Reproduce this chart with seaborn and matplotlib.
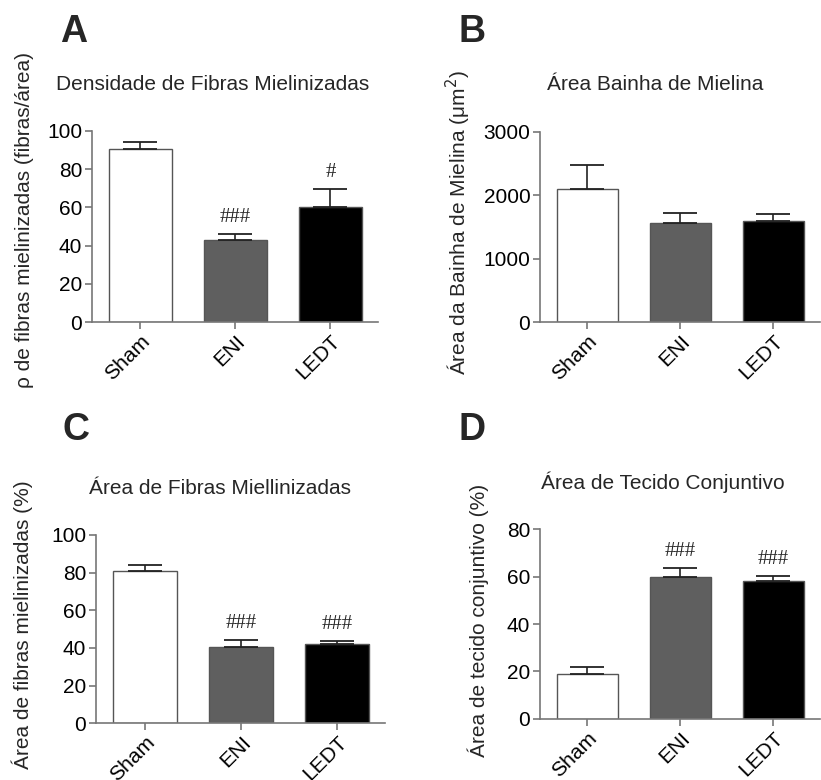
import pandas as pd
import matplotlib.pyplot as plt
import seaborn as sns

groups = ["Sham", "ENI", "LEDT"]
colors = ["#ffffff", "#5f5f5f", "#000000"]

dens_mean = [90.5, 43.0, 60.3]
dens_sem = [4.0, 3.0, 9.5]
dens_marks = ["", "###", "#"]

bainha_mean = [2097, 1565, 1590]
bainha_sem = [380, 158, 118]
bainha_marks = ["", "", ""]

area_mean = [81.0, 40.4, 42.0]
area_sem = [3.2, 3.8, 1.8]
area_marks = ["", "###", "###"]

tecido_mean = [19.0, 59.7, 58.2]
tecido_sem = [3.0, 4.0, 1.9]
tecido_marks = ["", "###", "###"]

W, H = 821, 780
sns.set_theme(style="ticks")
plt.rcParams["font.family"] = ["Liberation Sans", "DejaVu Sans"]
FS = 15
GRAY = "#777777"


def px(x, y):
    return x / W, 1 - y / H


def panel(rect, mean, sem, marks, ylim, step, title, title_xy, ylabel, ylabel_xy, letter, letter_xy):
    l, t, r, b = rect
    ax = fig.add_axes([l / W, 1 - b / H, (r - l) / W, (b - t) / H])
    df = pd.DataFrame({"grupo": groups, "valor": mean})
    sns.barplot(data=df, x="grupo", y="valor", hue="grupo", palette=colors,
                errorbar=None, width=0.66, edgecolor="#555555", linewidth=1.0,
                legend=False, ax=ax)
    _, caps, _ = ax.errorbar(range(3), mean, yerr=[[0] * 3, sem], fmt="none",
                             ecolor="#222222", elinewidth=1.2, capsize=12, capthick=1.3)
    for c in caps:
        c.set_color("#666666")
    for i in range(3):
        if marks[i]:
            ax.annotate(marks[i], (i, mean[i] + sem[i]), xytext=(0, 5),
                        textcoords="offset points", ha="center", va="bottom",
                        fontsize=15, family=["Liberation Serif", "DejaVu Serif"])
    ax.set_xlim(-0.51, 2.5)
    ax.set_ylim(*ylim)
    ax.set_yticks(range(ylim[0], ylim[1] + 1, step))
    ax.set_xlabel("")
    ax.set_ylabel("")
    sns.despine(ax=ax)
    for s in ["left", "bottom"]:
        ax.spines[s].set_color(GRAY)
        ax.spines[s].set_linewidth(1.2)
    ax.tick_params(length=5, width=1.2, color=GRAY, labelsize=FS, pad=2, labelcolor="black")
    for lab in ax.get_xticklabels():
        lab.set_rotation(45)
        lab.set_ha("right")
        lab.set_rotation_mode("anchor")
    fig.text(*px(*title_xy), title, ha="center", va="center", fontsize=FS)
    fig.text(*px(*ylabel_xy), ylabel, ha="center", va="center", rotation=90, fontsize=FS)
    fig.text(*px(*letter_xy), letter, ha="left", va="baseline", fontsize=27, fontweight="bold")
    return ax


fig = plt.figure(figsize=(W / 100, H / 100), dpi=100)

panel((92, 131, 378, 322), dens_mean, dens_sem, dens_marks, (0, 100), 20,
      "Densidade de Fibras Mielinizadas", (213, 85),
      "ρ de fibras mielinizadas (fibras/área)", (25, 220), "A", (60, 42))
panel((540, 131.7, 820, 322), bainha_mean, bainha_sem, bainha_marks, (0, 3000), 1000,
      "Área Bainha de Mielina", (655, 85),
      "Área da Bainha de Mielina (μm$^2$)", (458, 223), "B", (458, 42))
panel((96, 535, 385, 723.3), area_mean, area_sem, area_marks, (0, 100), 20,
      "Área de Fibras Miellinizadas", (220, 488),
      "Área de fibras mielinizadas (%)", (22, 625), "C", (62, 440))
panel((540, 529.3, 820, 718.7), tecido_mean, tecido_sem, tecido_marks, (0, 80), 20,
      "Área de Tecido Conjuntivo", (663, 482),
      "Área de tecido conjuntivo (%)", (478, 620), "D", (458, 440))

fig.savefig("out.png", dpi=100)
